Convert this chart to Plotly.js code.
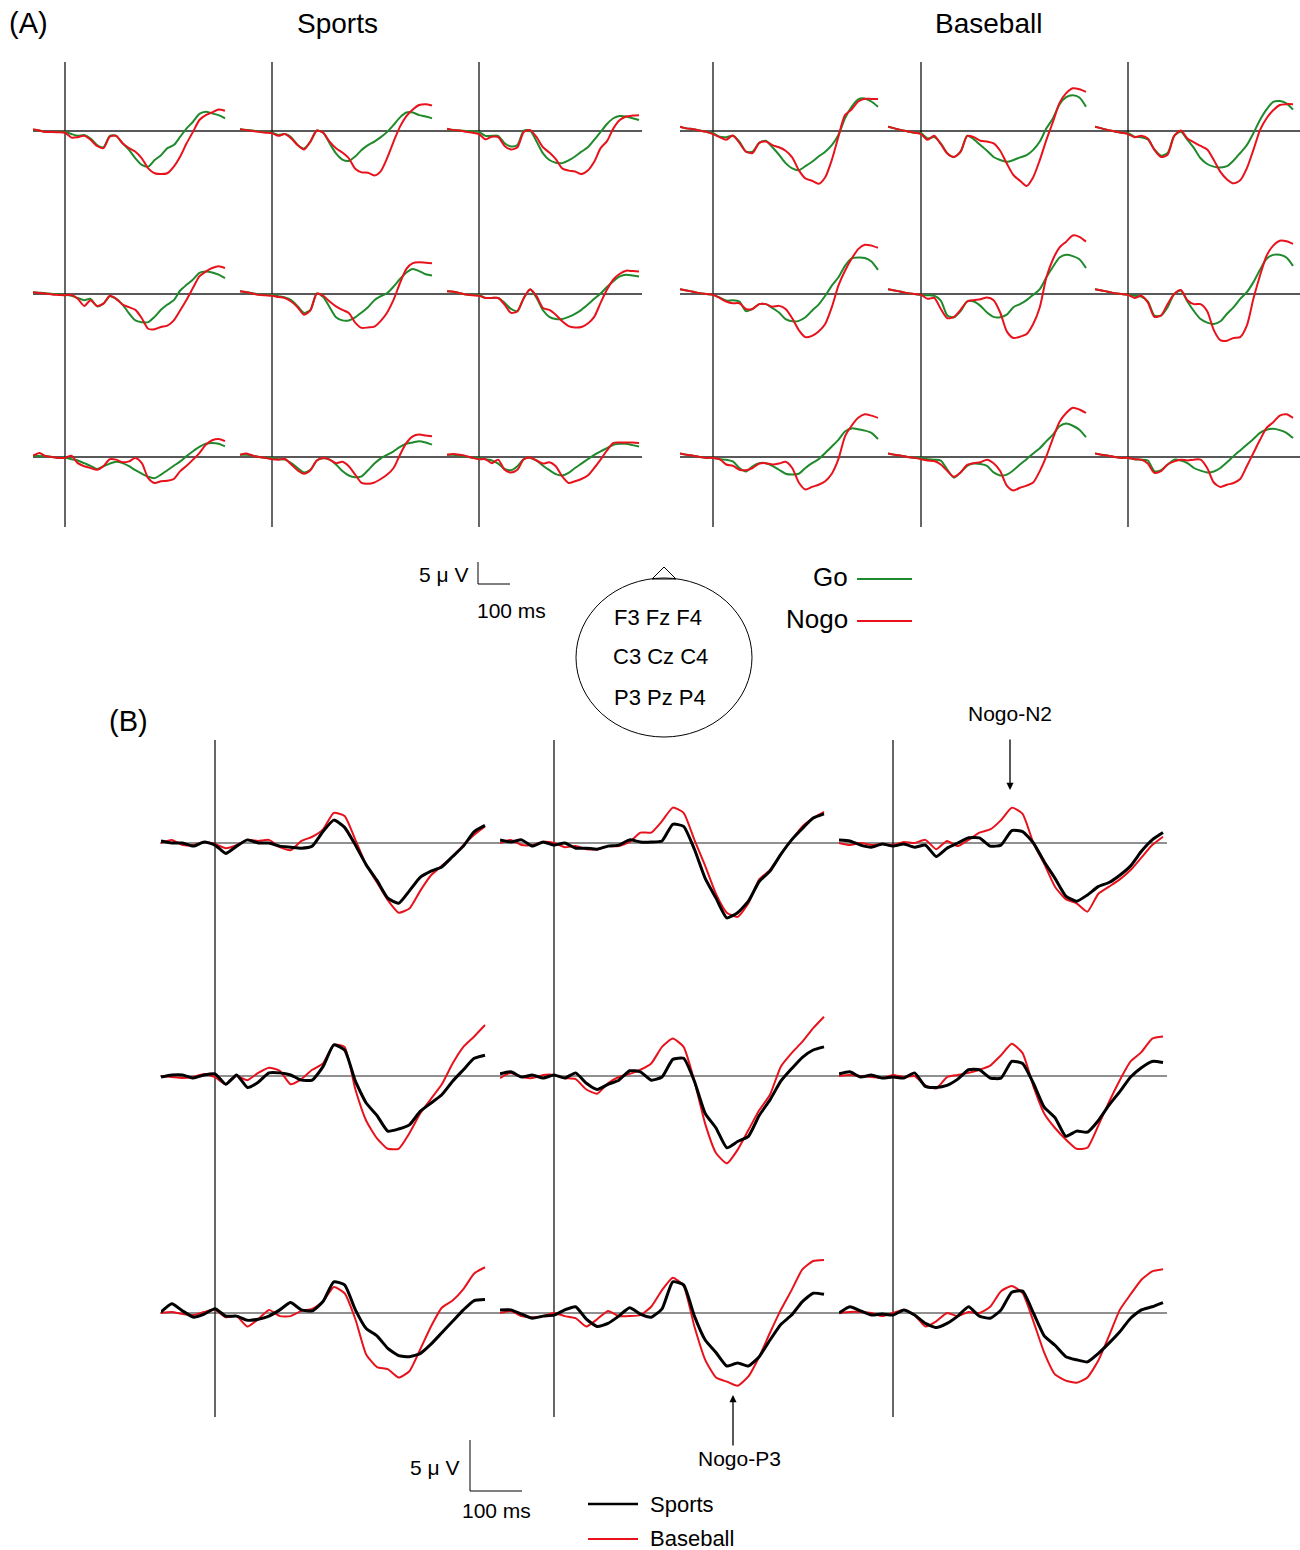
<!DOCTYPE html>
<html><head><meta charset="utf-8">
<script src="https://cdn.plot.ly/plotly-3.0.1.min.js"></script>
<style>html,body{margin:0;padding:0;background:#fff;}#chart{width:1300px;height:1550px;}</style>
</head><body><div id="chart"></div>
<script>
// ---------- DATA (µV, negative plotted upward) ----------
const timeMs = [-100,-80,-60,-40,-20,0,20,40,60,80,100,120,140,160,180,200,220,240,260,280,300,320,340,360,380,400,420,440,460,480,500];
const electrodes = ["F3","Fz","F4","C3","Cz","C4","P3","Pz","P4"];
const headRows = ["F3 Fz F4","C3 Cz C4","P3 Pz P4"];
const groupTitles = ["Sports","Baseball"];
const legendA = ["Go","Nogo"];
const legendB = ["Sports","Baseball"];

// (A) Sports group, Go / Nogo
const aSportsGo_F3 = [-0.2,-0.1,0.2,0.2,0.2,0.2,0.7,1.1,0.9,1.7,3.2,3.7,1.1,1.1,2.8,4.3,6.2,7.7,8.1,6.6,5.5,3.9,3.2,1.3,-0.6,-2.1,-3.9,-4.4,-4.0,-3.6,-2.9];
const aSportsNogo_F3 = [-0.4,-0.1,0.2,0.2,0.3,0.4,1.5,1.4,1.1,2.0,3.4,3.9,1.3,1.1,2.8,3.9,4.7,6.2,8.5,9.6,9.8,9.6,8.1,5.8,2.8,0.2,-2.5,-3.6,-4.2,-4.9,-4.6];
const aSportsGo_Fz = [-0.4,-0.2,-0.1,0.1,0.2,0.4,0.9,0.7,1.4,3.2,4.0,2.4,-0.1,0.4,2.8,5.1,6.5,6.8,5.8,4.3,3.2,2.4,1.4,0.2,-1.4,-3.1,-4.2,-4.2,-3.6,-3.3,-2.9];
const aSportsNogo_Fz = [-0.4,-0.2,0,0.2,0.4,0.5,1.1,0.7,1.7,3.2,4.2,2.4,-0.1,0.4,2.4,3.9,4.9,6.2,8.6,9.4,9.5,10.1,9.1,6.1,2.4,-1.0,-3.4,-4.9,-5.9,-6.1,-5.8];
const aSportsGo_F4 = [-0.4,-0.2,-0.1,0,0.1,0.2,1.1,1.1,1.1,2.8,3.5,3.2,-0.1,-0.1,2.4,5.1,6.6,7.2,7.3,6.7,5.8,4.7,3.7,2.0,0.2,-1.6,-2.9,-3.4,-3.3,-2.9,-2.5];
const aSportsNogo_F4 = [-0.5,-0.2,-0.1,0.2,0.4,0.7,1.9,1.3,1.4,3.4,4.2,3.7,0.2,-0.2,1.4,3.7,4.9,6.4,8.5,9.0,9.2,9.8,9.0,7.0,3.9,2.3,-0.6,-2.5,-3.3,-3.5,-3.6];
const aSportsGo_C3 = [-0.4,-0.3,-0.2,0,0.1,0.2,0.4,0.9,1.4,1.1,2.8,2.2,0.5,1.1,2.4,4.4,6.0,6.4,6.4,5.2,3.6,2.4,1.4,-0.8,-2.1,-3.3,-4.8,-5.1,-4.9,-4.4,-3.6];
const aSportsNogo_C3 = [-0.4,-0.2,-0.1,0.1,0.2,0.3,0.2,1.1,2.7,1.4,2.7,2.2,0.4,1.1,2.4,3.0,3.6,5.5,7.9,8.0,7.5,7.2,6.0,3.7,1.3,-1.4,-4.0,-5.1,-5.9,-6.3,-5.9];
const aSportsGo_Cz = [-0.6,-0.4,-0.2,0.1,0.2,0.2,0.5,0.8,1.4,2.8,4.3,3.6,-0.1,0.7,3.0,5.3,6.0,6.0,5.3,4.2,3.0,1.4,0.5,-0.2,-1.7,-3.4,-4.9,-5.7,-5.2,-4.5,-4.2];
const aSportsNogo_Cz = [-0.6,-0.4,-0.1,0.2,0.3,0.4,0.7,0.9,1.7,3.0,4.7,3.7,-0.1,0.4,1.7,2.8,3.6,4.3,6.5,7.7,7.6,7.4,6.1,4.2,1.3,-2.5,-5.7,-7.0,-7.2,-7.1,-7.0];
const aSportsGo_C4 = [-0.6,-0.5,-0.2,0.1,0.2,0.2,0.9,0.9,0.9,2.0,3.4,3.9,0.9,-1.0,0.9,3.7,5.2,5.7,5.7,5.2,4.5,3.6,2.4,1.1,-0.1,-1.6,-2.9,-4.0,-4.4,-4.2,-4.0];
const aSportsNogo_C4 = [-0.6,-0.5,-0.2,0.1,0.3,0.4,0.9,0.9,0.9,2.4,4.3,3.9,0.9,-1.1,0.5,3.2,3.6,4.7,6.2,7.3,7.6,7.5,6.7,5.2,2.0,-1.0,-3.3,-4.6,-5.3,-5.2,-5.1];
const aSportsGo_P3 = [-0.3,-0.2,-0.2,0,0.2,0.2,0.5,0.8,1.4,2.0,2.7,2.1,1.5,1.1,1.4,2.1,3.0,3.8,4.5,4.8,4.0,3.0,2.0,1.0,-0.2,-1.3,-2.3,-3.0,-3.2,-3.0,-2.4];
const aSportsNogo_P3 = [-0.3,-0.9,-0.2,0,0.2,0.2,-0.3,1.4,2.1,2.5,2.9,2.1,0.5,0.6,1.2,1.0,0.2,1.4,4.8,5.9,5.5,5.4,5.0,3.2,2.0,0.6,-0.9,-2.8,-3.8,-4.1,-3.6];
const aSportsGo_Pz = [-0.5,-0.5,-0.3,0,0.2,0.2,0.5,0.6,1.4,2.5,3.5,2.9,0.8,0.3,0.6,1.7,3.2,4.2,4.6,4.4,3.0,1.5,0.3,-0.5,-1.3,-2.3,-3.0,-3.3,-3.6,-3.3,-2.8];
const aSportsNogo_Pz = [-0.5,-0.8,-0.3,0,0.2,0.5,0.6,0.4,1.7,3.0,3.8,3.0,0.8,0.2,0.6,1.4,1.1,2.1,4.0,5.9,6.1,5.8,5.0,4.0,2.5,-0.5,-3.2,-4.7,-5.1,-4.9,-4.7];
const aSportsGo_P4 = [-0.5,-0.5,-0.3,-0.1,0.2,0.2,0.5,0.8,1.5,2.7,3.0,2.1,0.5,0.2,0.8,2.0,3.0,3.9,4.2,3.6,2.5,1.5,0.5,-0.5,-1.3,-2.0,-2.8,-3.0,-3.0,-2.7,-2.4];
const aSportsNogo_P4 = [-0.5,-0.7,-0.5,-0.2,0.2,0.5,0.5,1.4,0.6,2.9,3.5,2.9,0.5,0.1,0.8,1.5,1.2,2.1,4.4,5.9,5.5,5.0,4.2,2.5,0.6,-1.5,-3.2,-3.3,-3.3,-3.3,-3.2];

// (A) Baseball group, Go / Nogo
const aBaseGo_F3 = [-1.0,-0.6,-0.4,-0.1,0.2,0.5,1.3,1.4,1.1,2.4,4.7,4.7,2.7,2.2,3.7,5.4,7.3,8.5,8.9,8.0,7.0,5.8,4.7,3.2,0.9,-2.9,-5.5,-7.2,-7.4,-6.7,-5.5];
const aBaseNogo_F3 = [-1.0,-0.6,-0.4,-0.1,0.2,0.7,1.4,2.0,1.0,2.7,4.7,5.0,2.7,2.4,3.2,3.7,4.5,6.0,8.9,10.8,11.3,12.0,10.5,6.6,1.3,-3.6,-4.9,-6.7,-7.3,-7.3,-7.3];
const aBaseGo_Fz = [-1.0,-0.6,-0.2,0.1,0.4,0.5,1.7,1.4,2.8,5.1,5.9,4.7,1.1,1.9,3.2,4.5,5.9,6.6,7.0,6.6,6.0,5.5,4.3,2.4,-0.6,-2.9,-6.1,-7.7,-8.1,-7.6,-5.5];
const aBaseNogo_Fz = [-1.0,-0.6,-0.2,0.1,0.4,0.7,2.0,1.1,3.0,5.1,5.9,4.7,1.1,1.4,2.2,2.4,2.8,4.5,7.4,10.0,11.3,12.5,10.5,6.6,2.0,-2.1,-6.4,-8.6,-9.7,-9.5,-8.9];
const aBaseGo_F4 = [-1.0,-0.6,-0.2,0.1,0.4,0.5,1.3,1.4,1.9,4.2,5.6,5.0,1.1,0.2,2.0,3.9,6.2,7.5,8.1,8.3,8.0,6.7,5.0,3.2,0.5,-2.5,-4.9,-6.6,-6.8,-6.3,-4.9];
const aBaseNogo_F4 = [-1.0,-0.6,-0.2,0.1,0.4,0.7,1.4,1.1,1.7,4.3,5.9,5.4,1.1,-0.1,1.7,2.6,3.4,4.2,6.6,9.3,11.0,11.9,11.2,8.5,4.3,-0.2,-2.9,-4.7,-5.9,-6.1,-6.1];
const aBaseGo_C3 = [-1.1,-0.8,-0.5,-0.2,0,0.2,0.8,1.5,1.4,1.7,3.9,3.4,2.3,2.3,3.2,4.2,5.7,6.2,6.1,5.3,3.8,2.4,0.4,-1.9,-3.8,-6.4,-8.1,-8.3,-8.2,-7.4,-5.5];
const aBaseNogo_C3 = [-1.1,-0.8,-0.5,-0.2,0,0.2,0.9,1.7,2.1,2.1,3.4,3.4,2.3,2.3,2.9,2.7,3.4,5.5,8.2,9.8,9.5,8.5,6.8,3.0,-1.9,-5.3,-8.0,-10.2,-11.2,-11.0,-10.5];
const aBaseGo_Cz = [-1.1,-0.8,-0.5,-0.2,0,0.2,0.3,0.4,1.5,4.9,5.3,3.9,1.7,1.7,2.7,4.2,5.2,5.3,4.7,3.0,2.3,1.4,0.2,-1.1,-3.8,-6.2,-8.3,-8.9,-8.6,-7.9,-5.9];
const aBaseNogo_Cz = [-1.1,-0.8,-0.5,-0.2,0,0.2,1.1,0.9,3.4,5.5,5.2,3.6,1.7,1.4,1.2,0.8,1.4,4.2,8.5,10.0,9.7,9.1,6.8,3.0,-3.8,-7.9,-10.6,-11.9,-13.3,-13.0,-11.9];
const aBaseGo_C4 = [-1.1,-0.8,-0.5,-0.2,0,0.2,0.4,0.6,1.7,4.9,4.9,3.0,0,-0.8,1.7,3.9,5.7,6.5,6.8,6.2,4.5,3.0,1.1,-0.4,-2.7,-5.5,-8.0,-8.9,-8.9,-8.3,-6.4];
const aBaseNogo_C4 = [-1.1,-0.8,-0.5,-0.2,0,0.2,0.9,0.4,1.9,5.2,4.9,2.3,0,-0.9,1.4,2.3,2.3,3.9,8.2,10.5,10.6,10.0,9.8,7.2,1.1,-4.2,-8.7,-11.0,-12.1,-12.0,-11.4];
const aBaseGo_P3 = [-0.8,-0.5,-0.3,0,0.2,0.2,0.5,0.6,1.0,2.5,3.3,2.1,1.4,1.4,2.0,2.9,3.8,4.0,3.8,2.5,1.4,0.5,-0.9,-2.4,-3.9,-5.8,-6.5,-6.3,-6.0,-5.5,-4.1];
const aBaseNogo_P3 = [-0.8,-0.5,-0.3,0,0.2,0.2,0.5,1.7,2.0,2.9,3.0,2.5,1.5,1.4,1.7,1.5,1.1,2.5,5.8,7.4,6.8,6.3,5.5,3.8,0.5,-4.7,-7.1,-8.9,-9.7,-9.4,-8.9];
const aBaseGo_Pz = [-0.8,-0.5,-0.3,0,0.2,0.2,0.5,0.6,0.8,2.9,4.7,3.5,2.0,1.5,1.6,2.0,3.5,4.2,4.0,3.0,1.7,0.5,-0.8,-2.0,-3.6,-5.1,-7.0,-7.6,-7.1,-6.2,-4.5];
const aBaseNogo_Pz = [-0.8,-0.5,-0.3,0,0.2,0.5,0.8,0.9,1.7,3.2,4.5,3.5,1.8,1.4,1.2,0.6,1.4,3.2,6.5,7.6,7.0,6.5,5.8,3.2,-0.2,-4.3,-8.0,-10.0,-11.2,-10.8,-10.0];
const aBaseGo_P4 = [-0.8,-0.5,-0.3,0,0.2,0.2,0.5,0.6,0.8,3.2,3.0,1.7,0.6,0.8,1.4,2.5,3.1,3.5,3.3,2.5,1.2,-0.2,-1.5,-2.8,-4.1,-5.5,-6.2,-6.4,-6.1,-5.5,-4.3];
const aBaseNogo_P4 = [-0.8,-0.5,-0.3,0,0.2,0.2,0.5,0.6,1.5,3.6,3.2,1.7,1.0,0.6,0.8,0.6,0.6,2.5,5.8,6.8,6.3,5.9,5.0,2.1,-0.9,-3.9,-6.6,-7.9,-9.4,-9.7,-8.9];

// (B) Nogo waves, Sports / Baseball
const bSports_F3 = [-0.2,0,0,0.3,-0.1,0.2,1.0,0.3,-0.3,0,0,0.3,0.4,0.5,0.3,-1.1,-2.2,-1.5,0.2,2.1,3.6,5.3,5.8,4.6,3.3,2.7,2.3,1.3,0.3,-1.1,-1.7];
const bBase_F3 = [0,-0.3,0.2,0.2,-0.1,0.1,0.5,0.2,-0.3,-0.2,-0.3,0.4,0.7,-0.2,-0.6,-1.3,-2.9,-2.6,-0.3,2.1,3.8,5.5,6.7,6.3,4.6,3.1,2.2,1.3,0.2,-0.8,-1.6];
const bSports_Fz = [-0.3,-0.1,-0.3,0.3,-0.1,0.2,0,0.5,0.5,0.6,0.3,0.2,-0.3,-0.1,-0.1,-0.2,-1.8,-1.6,0.6,3.4,5.3,7.2,6.7,5.6,3.7,2.7,1.1,-0.3,-1.4,-2.4,-2.8];
const bBase_Fz = [0,-0.3,0.2,0.2,-0.1,0,0.4,0.3,0.6,0.6,0.3,0.3,-0.1,-1.0,-1.0,-2.1,-3.4,-2.9,-0.3,2.2,4.9,6.7,7.1,5.8,3.5,2.6,1.1,-0.3,-1.6,-2.4,-3.0];
const bSports_F4 = [-0.3,-0.2,0.2,0.4,0.1,0.3,0.1,0.4,0.2,1.3,0.5,0,-0.5,-0.5,0.3,0.2,-1.2,-1.1,0,1.8,3.4,5.1,5.6,5.0,4.2,3.8,3.1,2.2,0.8,-0.3,-1.0];
const bBase_F4 = [0,0.2,0,0.2,0.1,0.2,-0.1,0,-0.3,0.6,-0.2,0.3,-0.3,-1.0,-1.3,-2.2,-3.4,-2.8,0,2.0,4.2,5.4,5.8,6.6,4.9,4.2,3.5,2.6,1.4,0.2,-0.6];
const bSports_C3 = [0.1,-0.1,-0.1,0.2,-0.1,-0.2,0.8,-0.1,1.1,0.6,-0.3,-0.3,-0.1,0.4,0.4,-0.9,-3.0,-2.5,0.5,2.6,3.8,5.3,5.1,4.7,3.4,2.6,1.8,0.5,-0.6,-1.7,-2.0];
const bBase_C3 = [0,0.1,0.2,0.1,-0.2,0.1,0.8,0,0.4,-0.3,-0.8,-0.5,0.8,0.3,-0.6,-1.2,-3.0,-2.8,1.3,4.3,6.0,7.0,7.0,5.5,3.6,2.2,0.8,-1.2,-2.8,-3.8,-4.9];
const bSports_Cz = [-0.2,-0.4,0.1,-0.1,0.2,-0.1,0.2,-0.3,0.7,1.3,0.8,0.4,-0.5,-0.4,0.4,0.1,-1.6,-1.7,0.5,3.6,5.0,6.9,6.3,5.8,3.8,2.3,0.5,-0.7,-1.8,-2.5,-2.8];
const bBase_Cz = [0.2,-0.3,0.1,0.2,-0.1,-0.1,0.2,0.3,1.3,1.7,0.7,0.1,-0.2,-0.6,-1.2,-2.8,-3.6,-2.8,0.5,4.6,7.4,8.4,7.1,5.2,3.3,1.8,-0.9,-2.2,-3.3,-4.6,-5.7];
const bSports_C4 = [-0.2,-0.4,0.1,-0.1,0.2,0.1,0.2,-0.3,1.0,1.1,0.9,0.3,-0.6,-0.6,0.2,0.2,-1.4,-1.2,0.7,3.0,4.0,5.8,5.3,5.4,4.3,2.8,1.5,0.1,-0.8,-1.4,-1.3];
const bBase_C4 = [0,-0.1,0,0.1,0.2,-0.1,0.1,0,0.9,1.2,0.1,-0.1,-0.3,-0.6,-1.0,-2.0,-3.1,-2.2,1.0,3.6,5.0,6.1,7.0,6.9,4.8,2.5,0.4,-1.4,-2.3,-3.6,-3.8];
const bSports_P3 = [-0.1,-0.9,-0.2,0.4,0.1,-0.4,0.3,0.3,0.7,0.6,0.3,-0.3,-1.0,-0.3,-0.2,-1.1,-3.0,-2.7,-0.3,1.5,2.2,3.4,4.1,4.2,3.9,3.0,1.9,0.8,-0.3,-1.2,-1.3];
const bBase_P3 = [0,-0.1,0.1,0.2,-0.1,-0.3,0.4,0.3,1.3,0.6,-0.3,0.3,0.3,-0.2,-0.4,-1.1,-2.5,-1.9,0.6,4.0,5.2,5.4,6.2,5.6,3.5,1.3,-0.5,-1.2,-2.3,-3.8,-4.4];
const bSports_Pz = [-0.3,-0.3,0.1,0.5,0.3,0.2,-0.3,-0.6,0.6,1.3,1.0,0.3,-0.5,0.1,0.4,-0.4,-3.0,-2.7,0.3,2.6,3.8,5.1,4.8,5.1,4.2,2.6,1.1,0.2,-1.1,-1.9,-1.8];
const bBase_Pz = [0,-0.2,0.3,0.4,0.3,0,0.3,0.5,1.3,0.6,-0.2,0.3,0.3,0.2,-0.6,-2.2,-3.4,-2.6,1.3,4.5,6.2,6.6,7.0,6.1,4.2,1.9,-0.3,-2.2,-4.2,-5.0,-5.1];
const bSports_P4 = [0,-0.6,-0.2,0.2,0.1,0.2,-0.3,0.2,1.0,1.4,1.0,0.3,-0.6,0.3,0.5,-0.3,-2.0,-2.1,0,2.2,3.1,4.2,4.5,4.7,3.9,2.9,1.8,0.5,-0.3,-0.6,-1.0];
const bBase_P4 = [0,-0.1,-0.1,0,0.3,0,-0.3,0.2,1.3,0.8,0,0.3,-0.1,0,-0.6,-2.1,-2.6,-1.9,0.8,3.8,5.9,6.5,6.7,6.2,4.6,2.2,-0.3,-1.8,-3.2,-4.0,-4.2];

// ---------- BUILD ----------
const W = 1300, H = 1550;
const fx = p => p / W, fy = p => 1 - p / H;
const GREEN = '#1f8a2c', RED = '#e8121c', BLACK = '#000000';
const FONT = 'Arial, "Liberation Sans", sans-serif';

const aSports = {
  go: [aSportsGo_F3,aSportsGo_Fz,aSportsGo_F4,aSportsGo_C3,aSportsGo_Cz,aSportsGo_C4,aSportsGo_P3,aSportsGo_Pz,aSportsGo_P4],
  nogo: [aSportsNogo_F3,aSportsNogo_Fz,aSportsNogo_F4,aSportsNogo_C3,aSportsNogo_Cz,aSportsNogo_C4,aSportsNogo_P3,aSportsNogo_Pz,aSportsNogo_P4]
};
const aBase = {
  go: [aBaseGo_F3,aBaseGo_Fz,aBaseGo_F4,aBaseGo_C3,aBaseGo_Cz,aBaseGo_C4,aBaseGo_P3,aBaseGo_Pz,aBaseGo_P4],
  nogo: [aBaseNogo_F3,aBaseNogo_Fz,aBaseNogo_F4,aBaseNogo_C3,aBaseNogo_Cz,aBaseNogo_C4,aBaseNogo_P3,aBaseNogo_Pz,aBaseNogo_P4]
};
const bSports = [bSports_F3,bSports_Fz,bSports_F4,bSports_C3,bSports_Cz,bSports_C4,bSports_P3,bSports_Pz,bSports_P4];
const bBase = [bBase_F3,bBase_Fz,bBase_F4,bBase_C3,bBase_Cz,bBase_C4,bBase_P3,bBase_Pz,bBase_P4];

const traces = [];
const layout = {
  width: W, height: H, margin: {l:0, r:0, t:0, b:0},
  paper_bgcolor: '#ffffff', plot_bgcolor: 'rgba(0,0,0,0)',
  showlegend: false, shapes: [], annotations: [],
  font: {family: FONT, color: '#000'}
};
let axN = 0;
function addPanel(t0px, pxPerMs, basePx, pxPerUv, uvTop, uvBot, xMax, series, name) {
  axN++;
  const s = axN === 1 ? '' : String(axN);
  const left = t0px - 100 * pxPerMs, right = t0px + xMax * pxPerMs;
  const top = basePx + uvTop * pxPerUv, bot = basePx + uvBot * pxPerUv;
  layout['xaxis' + s] = {domain: [fx(left), Math.min(1, fx(right))], range: [-100, xMax], visible: false, fixedrange: true, anchor: 'y' + s};
  layout['yaxis' + s] = {domain: [fy(bot), fy(top)], range: [uvBot, uvTop], visible: false, fixedrange: true, anchor: 'x' + s};
  series.forEach(ser => traces.push({
    x: timeMs, y: ser.y, xaxis: 'x' + s, yaxis: 'y' + s, type: 'scatter', mode: 'lines',
    name: name + ' ' + ser.label, hoverinfo: 'skip',
    line: {color: ser.color, width: ser.width, shape: 'spline', smoothing: ser.smooth}
  }));
  return {x: 'x' + s, y: 'y' + s};
}
function vline(xr, yTopPx, yBotPx) {
  layout.shapes.push({type:'line', xref:xr, x0:0, x1:0, yref:'paper', y0:fy(yBotPx), y1:fy(yTopPx), line:{color:'#000', width:1.2}, layer:'below'});
}
function hline(yr, x0px, x1px, color, w) {
  layout.shapes.push({type:'line', xref:'paper', x0:fx(x0px), x1:fx(x1px), yref:yr, y0:0, y1:0, line:{color:color, width:w}, layer:'below'});
}
function pline(x0, y0, x1, y1, color, w) {
  layout.shapes.push({type:'line', xref:'paper', yref:'paper', x0:fx(x0), y0:fy(y0), x1:fx(x1), y1:fy(y1), line:{color:color, width:w}});
}
function text(t, x, y, size, xanchor) {
  layout.annotations.push({text:t, xref:'paper', yref:'paper', x:fx(x), y:fy(y), xanchor:xanchor||'center', yanchor:'middle', showarrow:false, font:{family:FONT, size:size, color:'#000'}});
}

// (A) panels
const aRowsBase = [131, 294, 457];
const aGroups = [
  {data: aSports, t0: [65, 272, 479], ppm: 0.32, span: [33, 642], name: groupTitles[0]},
  {data: aBase, t0: [713, 921, 1128], ppm: 0.33, span: [680, 1300], name: groupTitles[1]}
];
aGroups.forEach(g => {
  for (let r = 0; r < 3; r++) {
    for (let c = 0; c < 3; c++) {
      const i = r * 3 + c;
      const ax = addPanel(g.t0[c], g.ppm, aRowsBase[r], 4.4, -16, 21, 520, [
        {y: g.data.go[i], color: GREEN, width: 2, label: legendA[0], smooth: 0.7},
        {y: g.data.nogo[i], color: RED, width: 2, label: legendA[1], smooth: 0.7}
      ], g.name + ' ' + electrodes[i]);
      if (r === 0) vline(ax.x, 62, 527);
      if (c === 0) hline(ax.y, g.span[0], g.span[1], '#222', 1.3);
    }
  }
});

// (B) panels
const bRowsBase = [843, 1076, 1313];
const bT0 = [215, 554, 893];
for (let r = 0; r < 3; r++) {
  for (let c = 0; c < 3; c++) {
    const i = r * 3 + c;
    const ax = addPanel(bT0[c], 0.54, bRowsBase[r], 10.4, -8, 10, 520, [
      {y: bBase[i], color: RED, width: 2, label: legendB[1], smooth: 0.5},
      {y: bSports[i], color: BLACK, width: 3, label: legendB[0], smooth: 0.5}
    ], 'B ' + electrodes[i]);
    if (r === 0) vline(ax.x, 740, 1417);
    if (c === 0) hline(ax.y, 160, 1167, '#222', 1.2);
  }
}

// Titles / labels
text('(A)', 28, 23, 29);
text(groupTitles[0], 337, 23, 28);
text(groupTitles[1], 988, 23, 28);
text('(B)', 128, 721, 29);

// Scale bar A
pline(478, 562, 478, 584, '#000', 1);
pline(478, 584, 510, 584, '#000', 1);
text('5 \u03bc V', 470, 574, 21, 'right');
text('100 ms', 511, 610, 21);

// Head
layout.shapes.push({type:'circle', xref:'paper', yref:'paper', x0:fx(576), x1:fx(752), y0:fy(737), y1:fy(578), line:{color:'#000', width:1}});
layout.shapes.push({type:'path', xref:'paper', yref:'paper',
  path: 'M ' + fx(652) + ' ' + fy(579) + ' L ' + fx(664) + ' ' + fy(567) + ' L ' + fx(676) + ' ' + fy(579) + ' Z',
  line:{color:'#000', width:1}, fillcolor:'rgba(0,0,0,0)'});
text(headRows[0], 658, 617, 22);
text(headRows[1], 660, 657, 22);
text(headRows[2], 660, 697, 22);

// Legend A
text(legendA[0], 850, 577, 26, 'right');
text(legendA[1], 850, 619, 26, 'right');
pline(857, 579, 912, 579, GREEN, 2);
pline(857, 621, 912, 621, RED, 2);

// Annotated peaks
text('Nogo-N2', 1010, 713, 21);
layout.annotations.push({text:'', xref:'paper', yref:'paper', x:fx(1010), y:fy(790), ax:0, ay:-52, showarrow:true, arrowhead:2, arrowsize:1.1, arrowwidth:1.3, arrowcolor:'#000'});
text('Nogo-P3', 739, 1458, 21);
layout.annotations.push({text:'', xref:'paper', yref:'paper', x:fx(733), y:fy(1395), ax:0, ay:52, showarrow:true, arrowhead:2, arrowsize:1.1, arrowwidth:1.3, arrowcolor:'#000'});

// Scale bar B
pline(470, 1440, 470, 1491, '#000', 1);
pline(470, 1491, 522, 1491, '#000', 1);
text('5 \u03bc V', 461, 1467, 21, 'right');
text('100 ms', 496, 1510, 21);

// Legend B
pline(588, 1504, 638, 1504, BLACK, 2.5);
pline(588, 1539, 638, 1539, RED, 2);
text(legendB[0], 648, 1504, 22, 'left');
text(legendB[1], 648, 1538, 22, 'left');

Plotly.newPlot('chart', traces, layout, {staticPlot: true, displayModeBar: false});
</script>
</body></html>
